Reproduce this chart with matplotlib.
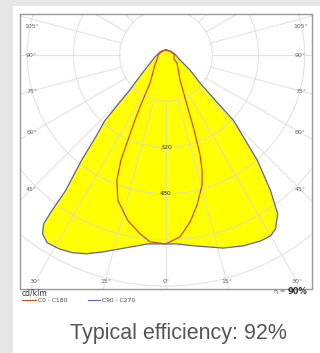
import numpy as np
import matplotlib.pyplot as plt
from matplotlib.patches import Circle, Rectangle

# luminous intensity distribution, cd/klm, gamma in degrees from nadir
# C90 - C270 plane (outline of the filled area)
c270_gamma = [180, 170, 117, 80, 55, 46, 43, 41, 38.7, 36.5, 36.2, 35.9, 34.6,
              32.3, 28.8, 25.3, 21.8, 17.8, 13.4, 5.5, 0]
c270_cd = [17, 18, 23, 39, 90, 175, 310, 360, 468, 584, 675, 722, 752,
           769, 766, 757, 741, 716, 690, 657, 654]
c90_gamma = [0, 3.3, 8.1, 16.5, 22.1, 26.9, 30, 32.2, 35.1, 37.6, 40.9, 45.9,
             47.4, 50.5, 58, 70, 96, 135, 180]
c90_cd = [654, 655, 667, 697, 713, 722, 723, 711, 672, 593, 483, 325,
          231, 153, 98, 52, 31, 20, 17]

# C0 - C180 plane
c180_gamma = [180, 135, 90, 76, 47.7, 29.7, 26.6, 25.5, 24.1, 23.2, 21.4, 18.3,
              13, 8.3, 4.9, 0]
c180_cd = [17, 19, 27, 29, 52, 112, 202, 250, 323, 396, 466, 530,
           588, 625, 649, 654]
c0_gamma = [0, 1.2, 4.4, 8.2, 11.7, 15.5, 17.4, 18.8, 20.5, 22.8, 29.2, 54, 63,
            96, 135, 180]
c0_cd = [654, 647, 631, 584, 530, 467, 417, 365, 277, 188, 100, 47, 31,
         28, 19, 17]

rings = [160, 320, 480, 640, 800, 960]
ring_labels = [320, 480]
side_angles = [45, 60, 75, 90, 105]
bottom_angles = [-30, -15, 0, 15, 30]
efficiency = 92
lor = 90


def to_xy(gamma, cd, side):
    g = np.radians(gamma)
    cd = np.asarray(cd, dtype=float)
    return side * cd * np.sin(g), -cd * np.cos(g)


fig = plt.figure(figsize=(3.2, 3.53), dpi=100, facecolor='#e6e6e6')
fig.patches.append(Rectangle((13 / 320, 0), 307 / 320, 347 / 353,
                             transform=fig.transFigure, color='white', zorder=-1))

ax = fig.add_axes([20 / 320, 64 / 353, 292 / 320, 275 / 353])
ax.set_xlim(-505, 505)
ax.set_ylim(-810, 142)
ax.set_xticks([])
ax.set_yticks([])
for s in ax.spines.values():
    s.set_color('#9a9a9a')
    s.set_linewidth(1.0)

# C90 - C270 filled outline
lx, ly = to_xy(c270_gamma, c270_cd, -1)
rx, ry = to_xy(c90_gamma, c90_cd, 1)
bx = np.concatenate([lx, rx])
by = np.concatenate([ly, ry])
ax.fill(bx, by, color='#ffff00', zorder=1, lw=0)
ax.plot(bx, by, color='#6060a8', lw=0.9, zorder=4)

# C0 - C180 outline
lx, ly = to_xy(c180_gamma, c180_cd, -1)
rx, ry = to_xy(c0_gamma, c0_cd, 1)
ax.plot(np.concatenate([lx, rx]), np.concatenate([ly, ry]),
        color='#d04a28', lw=0.9, zorder=4)

# polar grid
grid_color = '#d8d8d8'
grid_alpha = 0.7
for r in rings:
    ax.add_patch(Circle((0, 0), r, fill=False, ec=grid_color,
                        alpha=grid_alpha, lw=0.8, zorder=2))
for a in range(0, 360, 15):
    t = np.radians(a)
    ax.plot([160 * np.sin(t), 1300 * np.sin(t)],
            [-160 * np.cos(t), -1300 * np.cos(t)],
            color=grid_color, alpha=grid_alpha, lw=0.8, zorder=2)

for v in ring_labels:
    ax.text(0, -v, str(v), ha='center', va='center', fontsize=4.5,
            color='#333333', zorder=5)

# angle labels along the frame
lab_kw = dict(ha='center', va='center', fontsize=4.5, color='#666666', zorder=5)
for g in side_angles:
    t = np.radians(g)
    y = min(-465 * np.cos(t) / np.sin(t), 100)
    ax.text(-465, y, f'{g}°', **lab_kw)
    ax.text(465, y, f'{g}°', **lab_kw)
for g in bottom_angles:
    x = np.clip(783 * np.tan(np.radians(g)), -465, 465)
    ax.text(x, -783, f'{abs(g)}°', **lab_kw)

# units, legend and light output ratio below the frame
fig.text(22 / 320, 1 - 293 / 353, 'cd/klm', fontsize=5.5, color='#333333',
         va='center')
fig.add_artist(plt.Line2D([22 / 320, 36 / 320], [1 - 300 / 353] * 2,
                          color='#d04a28', lw=0.8))
fig.text(38 / 320, 1 - 300 / 353, 'C0 - C180', fontsize=4.3, color='#444444',
         va='center')
fig.add_artist(plt.Line2D([88 / 320, 100 / 320], [1 - 300 / 353] * 2,
                          color='#6060a8', lw=0.8))
fig.text(102 / 320, 1 - 300 / 353, 'C90 - C270', fontsize=4.3, color='#444444',
         va='center')
fig.text(308 / 320, 1 - 292 / 353, f'{lor}%', fontsize=6, fontweight='bold',
         color='#333333', ha='right', va='center')
fig.text(285 / 320, 1 - 291 / 353, 'η =', fontsize=4.5, color='#444444',
         ha='right', va='center')

fig.text(178 / 320, 1 - 334 / 353, f'Typical efficiency: {efficiency}%',
         fontsize=15.5, color='#555555', ha='center', va='center',
         family='Liberation Sans')

fig.savefig('out.png', dpi=100, facecolor=fig.get_facecolor())
